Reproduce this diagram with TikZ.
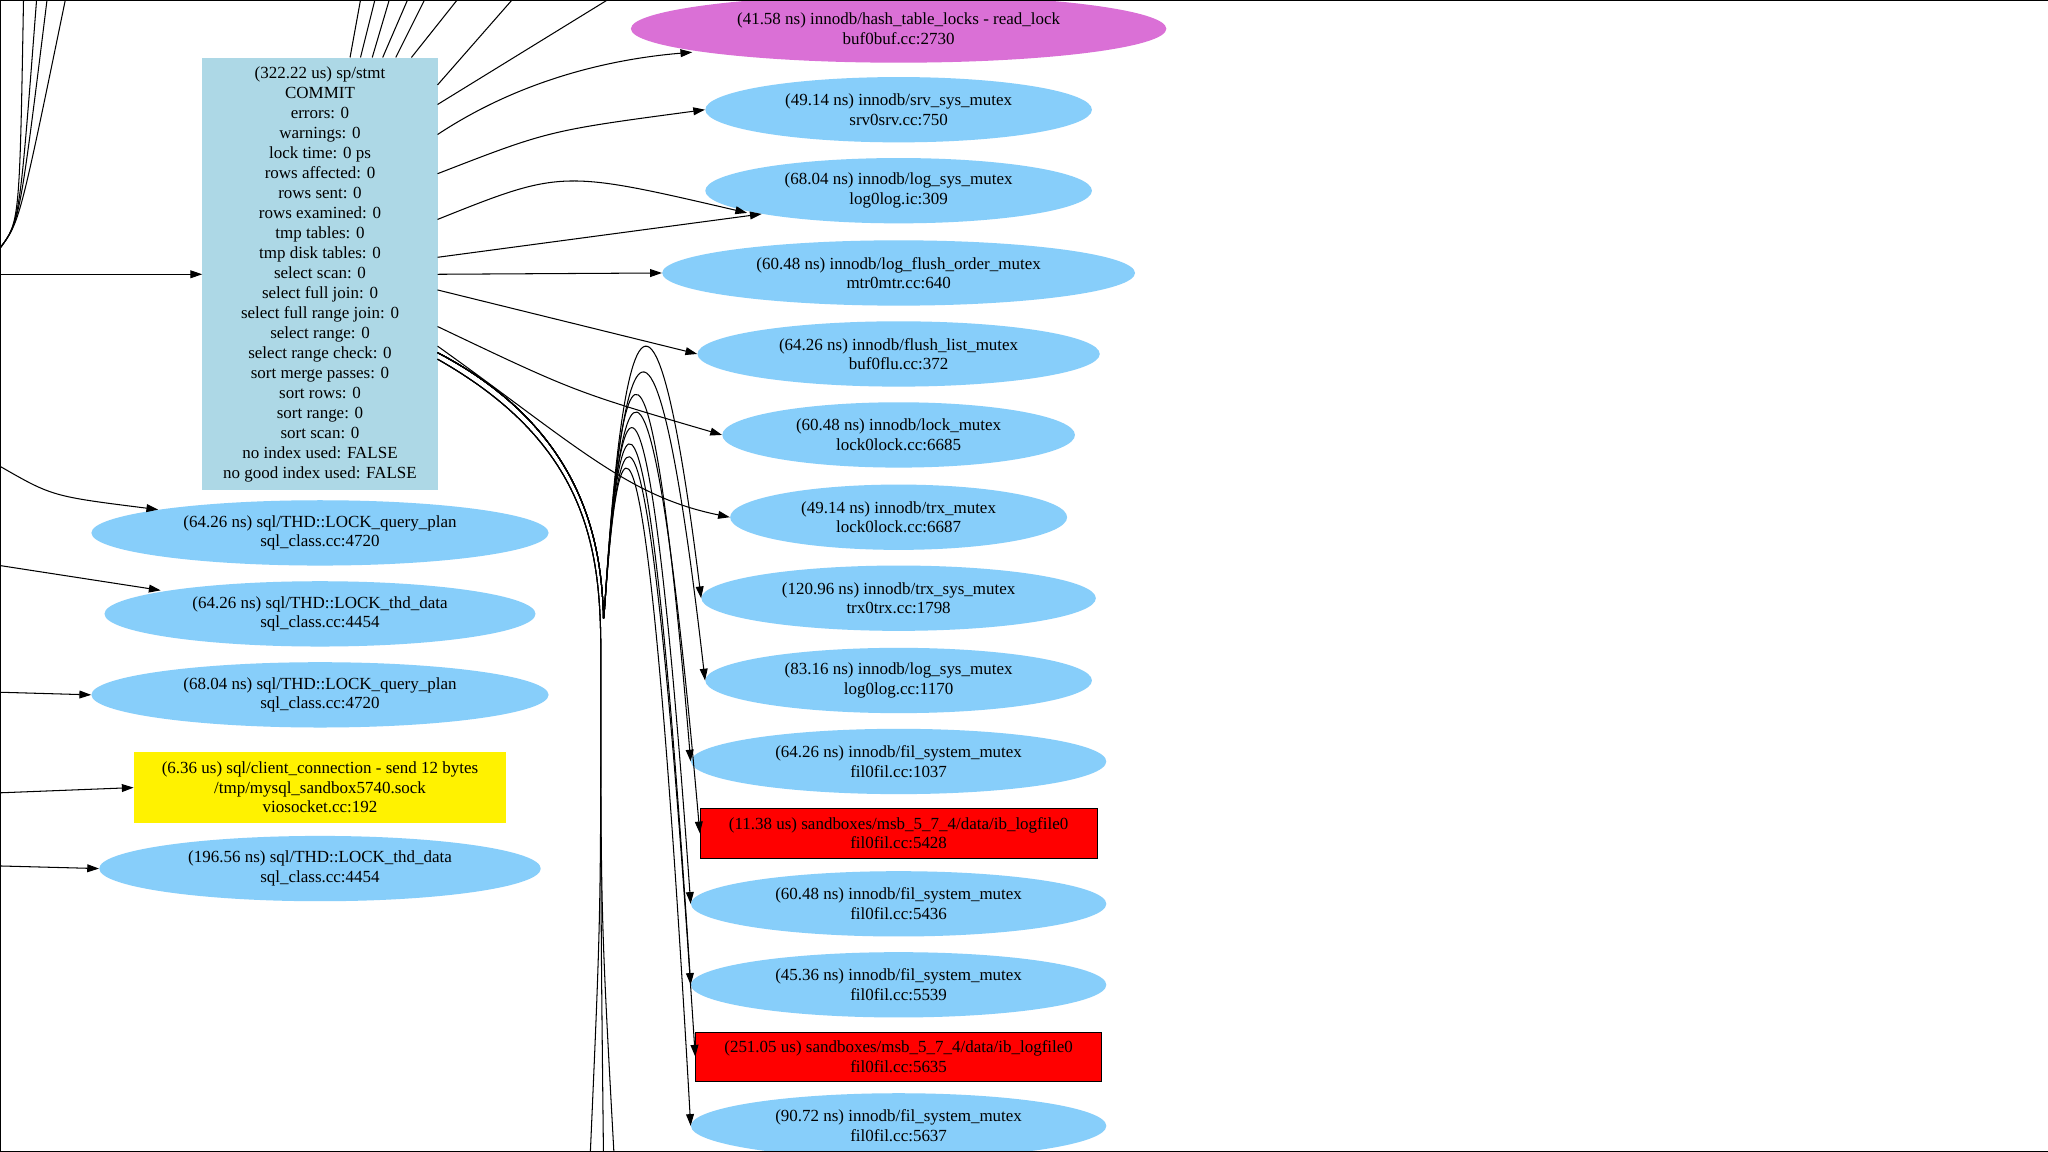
\documentclass[tikz,border=0pt]{standalone}
\usepackage{fontspec}
\setmainfont{Liberation Serif}
\usetikzlibrary{shapes.geometric,arrows.meta}
\definecolor{sky}{HTML}{87CEFA}
\definecolor{lblue}{HTML}{ADD8E6}
\definecolor{orch}{HTML}{DA70D6}
\tikzset{
 ell/.style={ellipse,fill=sky,inner sep=0pt,minimum height=50pt,align=center,font=\fontsize{13}{15}\selectfont},
 redbox/.style={rectangle,fill=red,draw=black,inner sep=0pt,minimum height=38pt,align=center,font=\fontsize{13}{15}\selectfont},
 ed/.style={-{Triangle[length=9pt,width=6pt]},line width=0.8pt},
 pl/.style={line width=0.8pt}
}
\begin{document}
\begin{tikzpicture}[x=1pt,y=-1pt]
\fill[white] (0,0) rectangle (1568,882);
\useasboundingbox (0,0) rectangle (1568,882);
\node[rectangle,fill=lblue,minimum width=180pt,minimum height=331pt,align=center,inner sep=0pt,font=\fontsize{13}{15.3}\selectfont] (box) at (245,210) {(322.22 us) sp/stmt\\COMMIT\\errors: 0\\warnings: 0\\lock time: 0 ps\\rows affected: 0\\rows sent: 0\\rows examined: 0\\tmp tables: 0\\tmp disk tables: 0\\select scan: 0\\select full join: 0\\select full range join: 0\\select range: 0\\select range check: 0\\sort merge passes: 0\\sort rows: 0\\sort range: 0\\sort scan: 0\\no index used: FALSE\\no good index used: FALSE};
\node[ell,fill=orch,minimum width=410pt,minimum height=52pt] (m) at (688,22) {(41.58 ns) innodb/hash\_table\_locks - read\_lock\\buf0buf.cc:2730};
\node[ell,minimum width=296pt] (r1) at (688,84) {(49.14 ns) innodb/srv\_sys\_mutex\\srv0srv.cc:750};
\node[ell,minimum width=296pt] (r2) at (688,146) {(68.04 ns) innodb/log\_sys\_mutex\\log0log.ic:309};
\node[ell,minimum width=362pt] (r3) at (688,209) {(60.48 ns) innodb/log\_flush\_order\_mutex\\mtr0mtr.cc:640};
\node[ell,minimum width=308pt] (r4) at (688,271) {(64.26 ns) innodb/flush\_list\_mutex\\buf0flu.cc:372};
\node[ell,minimum width=270pt] (r5) at (688,333) {(60.48 ns) innodb/lock\_mutex\\lock0lock.cc:6685};
\node[ell,minimum width=258pt] (r6) at (688,396) {(49.14 ns) innodb/trx\_mutex\\lock0lock.cc:6687};
\node[ell,minimum width=302pt] (r7) at (688,458) {(120.96 ns) innodb/trx\_sys\_mutex\\trx0trx.cc:1798};
\node[ell,minimum width=296pt] (r8) at (688,521) {(83.16 ns) innodb/log\_sys\_mutex\\log0log.cc:1170};
\node[ell,minimum width=318pt] (r9) at (688,583) {(64.26 ns) innodb/fil\_system\_mutex\\fil0fil.cc:1037};
\node[redbox,minimum width=304pt] (r10) at (688,638) {(11.38 us) sandboxes/msb\_5\_7\_4/data/ib\_logfile0\\fil0fil.cc:5428};
\node[ell,minimum width=318pt] (r11) at (688,692) {(60.48 ns) innodb/fil\_system\_mutex\\fil0fil.cc:5436};
\node[ell,minimum width=318pt] (r12) at (688,754) {(45.36 ns) innodb/fil\_system\_mutex\\fil0fil.cc:5539};
\node[redbox,minimum width=311pt] (r13) at (688,809) {(251.05 us) sandboxes/msb\_5\_7\_4/data/ib\_logfile0\\fil0fil.cc:5635};
\node[ell,minimum width=318pt] (r14) at (688,862) {(90.72 ns) innodb/fil\_system\_mutex\\fil0fil.cc:5637};
\node[ell,minimum width=350pt] (l1) at (245,408) {(64.26 ns) sql/THD::LOCK\_query\_plan\\sql\_class.cc:4720};
\node[ell,minimum width=330pt] (l2) at (245,470) {(64.26 ns) sql/THD::LOCK\_thd\_data\\sql\_class.cc:4454};
\node[ell,minimum width=350pt] (l3) at (245,532) {(68.04 ns) sql/THD::LOCK\_query\_plan\\sql\_class.cc:4720};
\node[rectangle,fill=yellow,minimum width=285pt,minimum height=54pt,inner sep=0pt,align=center,font=\fontsize{13}{15}\selectfont] (l4) at (245,603) {(6.36 us) sql/client\_connection - send 12 bytes\\/tmp/mysql\_sandbox5740.sock\\viosocket.cc:192};
\node[ell,minimum width=338pt] (l5) at (245,665) {(196.56 ns) sql/THD::LOCK\_thd\_data\\sql\_class.cc:4454};
% off-picture ends
\foreach \n/\x/\y in {a/0/210,b/0/357,c/0/433,d/0/530,e/0/607,f/0/663}{\coordinate (\n) at (\x,\y);}
\draw[ed] (a) -- (box.west);
\draw[ed] (b) .. controls (40,380) .. (l1.north west);
\draw[ed] (c) -- (123,452);
\draw[ed] (d) -- (l3.west);
\draw[ed] (e) -- (l4.west);
\draw[ed] (f) -- (l5.west);
% top lines
\foreach \sx/\tx in {268/276,276/287,285/298,293/312,303/325,315/350}{\draw[pl] (\sx,44) -- (\tx,0);}
\draw[pl] (335,65) -- (392,0);
\draw[pl] (335,80) -- (465,0);
\foreach \tx in {18,28,36,50}{\draw[pl] (0,190) .. controls (15,170) .. (\tx,0);}
% right edges
\draw[ed] (335,103) .. controls (400,60) and (470,45) .. (530,40);
\draw[ed] (335,133) .. controls (420,100) .. (r1.west);
\draw[ed] (335,168) .. controls (430,130) .. (572,163);
\draw[ed] (335,197) -- (r2.south west);
\draw[ed] (335,210) -- (r3.west);
\draw[ed] (335,222) -- (r4.west);
\draw[ed] (335,250) .. controls (440,300) .. (r5.west);
\draw[ed] (335,265) .. controls (440,340) and (480,380) .. (r6.west);
\foreach \t in {r7,r8,r9,r10,r11,r12,r13,r14}{
 \draw[ed] (335,270) .. controls (450,330) and (460,420) .. (462,470) .. controls (462,520) and (480,\the\numexpr 0\relax+0) .. (\t.west);}
\foreach \bx in {452,462,470}{\draw[pl] (335,275) .. controls (450,340) and (460,420) .. (460,500) .. controls (460,700) .. (\bx,882);}
\draw[pl] (0,0) rectangle (1568,882);
\end{tikzpicture}
\end{document}
